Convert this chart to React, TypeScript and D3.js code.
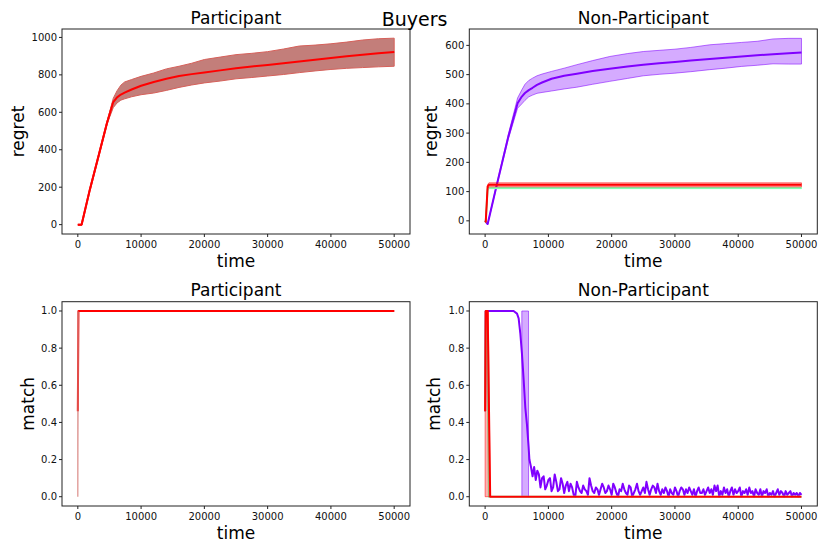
import React from 'react';
import * as d3 from 'd3';

const FONT = '"DejaVu Sans", sans-serif';
const PURPLE = '#8000ff';
const GREEN = '#80ffb4';
const RED = '#ff0000';

// ticks
const xTicks = [0, 10000, 20000, 30000, 40000, 50000];
const regretTicksPart = [0, 200, 400, 600, 800, 1000];
const regretTicksNon = [0, 100, 200, 300, 400, 500, 600];
const matchTicks = [0, 0.2, 0.4, 0.6, 0.8, 1.0];

// participant regret (all series overlap, red on top)
const partRegretT = [0, 600, 1900, 3000, 4600, 5600, 6200, 6800, 7400, 8500, 10000, 12000, 14000, 16000, 18000, 20000, 22500, 25000, 27500, 30000, 32500, 35000, 37500, 40000, 42500, 45000, 47500, 50000];
const partRegretMean = [0, 0, 187, 330, 542, 655, 680, 695, 705, 722, 742, 762, 779, 794, 804, 813, 824, 835, 845, 853, 862, 872, 881, 890, 899, 907, 915, 922];
const partRegretLow = [0, 0, 184, 326, 536, 625, 650, 665, 672, 683, 694, 703, 717, 733, 746, 757, 767, 779, 786, 794, 802, 812, 821, 829, 835, 839, 843, 846];
const partRegretHigh = [0, 0, 190, 334, 548, 675, 715, 745, 762, 775, 792, 810, 832, 846, 862, 882, 895, 908, 915, 924, 938, 954, 959, 966, 975, 986, 993, 996];

// non-participant regret
const nonPurpleT = [0, 400, 1830, 3670, 5130, 5800, 6300, 6900, 7500, 8200, 9000, 10500, 12500, 14500, 17000, 19700, 22500, 25000, 27500, 30000, 32500, 35500, 38000, 40500, 43000, 45500, 48000, 50000];
const nonPurpleMean = [0, -11, 122, 288, 402, 425, 437, 447, 455, 465, 473, 486, 496, 503, 512, 520, 528, 534, 539, 543, 548, 553, 558, 562, 566, 570, 573, 576];
const nonPurpleLow = [0, -13, 118, 280, 385, 400, 412, 424, 430, 436, 439, 444, 451, 457, 467, 477, 487, 496, 501, 505, 510, 517, 522, 528, 532, 537, 536, 536];
const nonPurpleHigh = [0, -9, 126, 296, 420, 448, 467, 480, 488, 496, 502, 511, 522, 534, 548, 562, 572, 579, 583, 587, 593, 602, 606, 610, 614, 622, 624, 624];

const nonRedT = [0, 100, 400, 600, 50000];
const nonRedMean = [0, -3, 118, 123, 123];
const nonRedLow = [0, -5, 110, 116, 116];
const nonRedHigh = [0, 0, 124, 130, 130];

const nonGreenT = [0, 100, 400, 600, 50000];
const nonGreenMean = [0, -3, 108, 112, 112];
const nonGreenLow = [0, -4, 106, 110, 110];
const nonGreenHigh = [0, -2, 110, 114, 114];

// participant match
const partMatchT = [0, 100, 50000];
const partMatchMean = [0.46, 1, 1];
const partMatchLow = [0, 1, 1];
const partMatchHigh = [1, 1, 1];

// non-participant match
const nonMatchRedT = [0, 100, 400, 800, 50000];
const nonMatchRedMean = [0.46, 1, 1, 0, 0];
const nonMatchRedBandT = [0, 500, 800];
const nonMatchRedLow = [0, 0, 0];
const nonMatchRedHigh = [1, 1, 0];

const nonMatchGreenT = [0, 100, 300, 600, 50000];
const nonMatchGreenMean = [0.46, 1, 1, 0, 0];

const nonMatchPurpleHeadT = [0, 100, 4500, 5040, 5300, 5560, 5820, 6090, 6350, 6610, 6870];
const nonMatchPurpleHead = [0.46, 1, 1, 0.986, 0.96, 0.88, 0.77, 0.63, 0.48, 0.39, 0.27];
const nonMatchPurpleTailStart = 7000;
const nonMatchPurpleTailStep = 250;
const nonMatchPurpleTail = [
  0.2, 0.16, 0.11, 0.16, 0.09, 0.14, 0.12, 0.05, 0.1, 0.11, 0.04, 0.06,
  0.09, 0.1, 0.03, 0.05, 0.12, 0.08, 0.03, 0.04, 0.1, 0.07, 0.02, 0.06,
  0.08, 0.03, 0.07, 0.05, 0.01, 0.0, 0.08, 0.05, 0.03, 0.02, 0.06, 0.04,
  0.03, 0.01, 0.1, 0.06, 0.03, 0.02, 0.05, 0.04, 0.01, 0.04, 0.07, 0.05,
  0.02, 0.03, 0.06, 0.04, 0.01, 0.07, 0.05, 0.02, 0.0, 0.04, 0.03, 0.07,
  0.04, 0.02, 0.01, 0.06, 0.05, 0.0, 0.02, 0.04, 0.07, 0.03, 0.01, 0.03,
  0.05, 0.02, 0.08, 0.04, 0.01, 0.04, 0.06, 0.05, 0.02, 0.07, 0.03, 0.01,
  0.04, 0.02, 0.05, 0.03, 0.0, 0.04, 0.02, 0.01, 0.05, 0.03, 0.0, 0.03,
  0.05, 0.04, 0.01, 0.04, 0.02, 0.05, 0.03, 0.01, 0.04, 0.0, 0.03, 0.05,
  0.02, 0.02, 0.04, 0.01, 0.03, 0.05, 0.02, 0.04, 0.01, 0.06, 0.03, 0.06,
  0.0, 0.03, 0.01, 0.05, 0.02, 0.04, 0.0, 0.03, 0.05, 0.01, 0.04, 0.02,
  0.03, 0.05, 0.0, 0.03, 0.02, 0.04, 0.01, 0.05, 0.02, 0.03, 0.0, 0.04,
  0.02, 0.01, 0.04, 0.0, 0.03, 0.02, 0.04, 0.0, 0.02, 0.01, 0.03, 0.0,
  0.02, 0.04, 0.01, 0.03, 0.02, 0.0, 0.03, 0.01, 0.02, 0.03, 0.0, 0.02,
  0.01, 0.02, 0.0, 0.02, 0.01,
];
const nonMatchPurpleBandT = [5800, 5810, 6860, 6870];
const nonMatchPurpleLow = [1, 0, 0, 0.27];
const nonMatchPurpleHigh = [1, 1, 1, 0.27];

type Band = { t: number[]; lo: number[]; hi: number[]; fill: string; edge: string };
type Series = { t: number[]; v: number[]; color: string; band?: Band };
type Box = { x0: number; x1: number; y0: number; y1: number };

const BROWN_FILL = 'rgb(195,126,122)';
const BROWN_EDGE = 'rgb(214,96,90)';

interface PanelProps {
  box: Box;
  yDomain: [number, number];
  yTicks: number[];
  fmt: (v: number) => string;
  title: string;
  titleY: number;
  ylabel: string;
  ylabelX: number;
  xlabelY: number;
  series: Series[];
}

const Panel: React.FC<PanelProps> = ({ box, yDomain, yTicks, fmt, title, titleY, ylabel, ylabelX, xlabelY, series }) => {
  const x = d3.scaleLinear().domain([-2500, 52500]).range([box.x0, box.x1]);
  const y = d3.scaleLinear().domain(yDomain).range([box.y1, box.y0]);
  const cx = (box.x0 + box.x1) / 2;
  const cy = (box.y0 + box.y1) / 2;

  const line = (s: Series) =>
    d3.line<number>().x((_, i) => x(s.t[i])).y(d => y(d))(s.v) || '';
  const area = (b: Band) =>
    d3.area<number>().x((_, i) => x(b.t[i])).y0((_, i) => y(b.lo[i])).y1((_, i) => y(b.hi[i]))(b.t) || '';

  return (
    <g>
      {series.map((s, k) => (
        <g key={k}>
          <path d={line(s)} fill="none" stroke={s.color} strokeWidth={2} strokeLinejoin="round" />
          {s.band && <path d={area(s.band)} fill={s.band.fill} stroke={s.band.edge} strokeWidth={1} />}
        </g>
      ))}
      <rect x={box.x0} y={box.y0} width={box.x1 - box.x0} height={box.y1 - box.y0} fill="none" stroke="#222" strokeWidth={1} />
      {xTicks.map(t => (
        <g key={t} transform={`translate(${x(t)},${box.y1})`}>
          <line y2={3} stroke="#222" />
          <text y={13.5} textAnchor="middle" fontSize={10} fontFamily={FONT} fill="#111">{t}</text>
        </g>
      ))}
      {yTicks.map(t => (
        <g key={t} transform={`translate(${box.x0},${y(t)})`}>
          <line x2={-3} stroke="#222" />
          <text x={-5} dy="0.35em" textAnchor="end" fontSize={10} fontFamily={FONT} fill="#111">{fmt(t)}</text>
        </g>
      ))}
      <text x={cx} y={titleY} textAnchor="middle" fontSize={17} fontFamily={FONT} fill="#000">{title}</text>
      <text x={cx} y={xlabelY} textAnchor="middle" fontSize={17} fontFamily={FONT} fill="#000">time</text>
      <text transform={`translate(${ylabelX},${cy}) rotate(-90)`} textAnchor="middle" fontSize={17} fontFamily={FONT} fill="#000">{ylabel}</text>
    </g>
  );
};

const App: React.FC = () => {
  const boxTL: Box = { x0: 62, x1: 410, y0: 29, y1: 234 };
  const boxTR: Box = { x0: 469.3, x1: 817.3, y0: 29, y1: 234 };
  const boxBL: Box = { x0: 62, x1: 410, y0: 301.7, y1: 506 };
  const boxBR: Box = { x0: 469.3, x1: 817.3, y0: 301.7, y1: 506 };

  const intFmt = (v: number) => String(v);
  const oneFmt = d3.format('.1f');

  const tailT = nonMatchPurpleTail.map((_, i) => nonMatchPurpleTailStart + i * nonMatchPurpleTailStep);

  const partRegret: Series[] = [
    { t: partRegretT, v: partRegretMean, color: RED, band: { t: partRegretT, lo: partRegretLow, hi: partRegretHigh, fill: BROWN_FILL, edge: BROWN_EDGE } },
    { t: partRegretT, v: partRegretMean, color: RED },
  ];

  const nonRegret: Series[] = [
    { t: nonPurpleT, v: nonPurpleMean, color: PURPLE, band: { t: nonPurpleT, lo: nonPurpleLow, hi: nonPurpleHigh, fill: 'rgba(128,0,255,0.33)', edge: 'rgba(128,0,255,0.55)' } },
    { t: nonGreenT, v: nonGreenMean, color: GREEN, band: { t: nonGreenT, lo: nonGreenLow, hi: nonGreenHigh, fill: 'rgba(128,255,180,0.4)', edge: 'rgba(128,255,180,0.6)' } },
    { t: nonRedT, v: nonRedMean, color: RED, band: { t: nonRedT, lo: nonRedLow, hi: nonRedHigh, fill: 'rgba(255,0,0,0.3)', edge: 'rgba(255,0,0,0.5)' } },
  ];

  const partMatch: Series[] = [
    { t: partMatchT, v: partMatchMean, color: RED, band: { t: partMatchT, lo: partMatchLow, hi: partMatchHigh, fill: BROWN_FILL, edge: 'rgba(214,120,115,0.6)' } },
    { t: partMatchT.slice(1), v: partMatchMean.slice(1), color: RED },
  ];

  const nonMatch: Series[] = [
    { t: [...nonMatchPurpleHeadT, ...tailT], v: [...nonMatchPurpleHead, ...nonMatchPurpleTail], color: PURPLE, band: { t: nonMatchPurpleBandT, lo: nonMatchPurpleLow, hi: nonMatchPurpleHigh, fill: 'rgba(128,0,255,0.33)', edge: 'rgba(128,0,255,0.55)' } },
    { t: nonMatchGreenT, v: nonMatchGreenMean, color: GREEN },
    { t: nonMatchRedT, v: nonMatchRedMean, color: RED, band: { t: nonMatchRedBandT, lo: nonMatchRedLow, hi: nonMatchRedHigh, fill: 'rgba(255,0,0,0.3)', edge: 'rgba(255,0,0,0.5)' } },
  ];

  return (
    <svg width={830} height={554} style={{ position: 'absolute', left: 0, top: 0, background: '#fff' }}>
      <rect width={830} height={554} fill="#fff" />
      <Panel box={boxTL} yDomain={[-50, 1045]} yTicks={regretTicksPart} fmt={intFmt} title="Participant" titleY={24} ylabel="regret" ylabelX={24} xlabelY={267} series={partRegret} />
      <Panel box={boxTR} yDomain={[-45, 656]} yTicks={regretTicksNon} fmt={intFmt} title="Non-Participant" titleY={24} ylabel="regret" ylabelX={437} xlabelY={267} series={nonRegret} />
      <Panel box={boxBL} yDomain={[-0.05, 1.05]} yTicks={matchTicks} fmt={oneFmt} title="Participant" titleY={296} ylabel="match" ylabelX={34} xlabelY={539} series={partMatch} />
      <Panel box={boxBR} yDomain={[-0.05, 1.05]} yTicks={matchTicks} fmt={oneFmt} title="Non-Participant" titleY={296} ylabel="match" ylabelX={440} xlabelY={539} series={nonMatch} />
      <text x={414.5} y={26} textAnchor="middle" fontSize={19} fontFamily={FONT} fill="#000">Buyers</text>
    </svg>
  );
};

export default App;
